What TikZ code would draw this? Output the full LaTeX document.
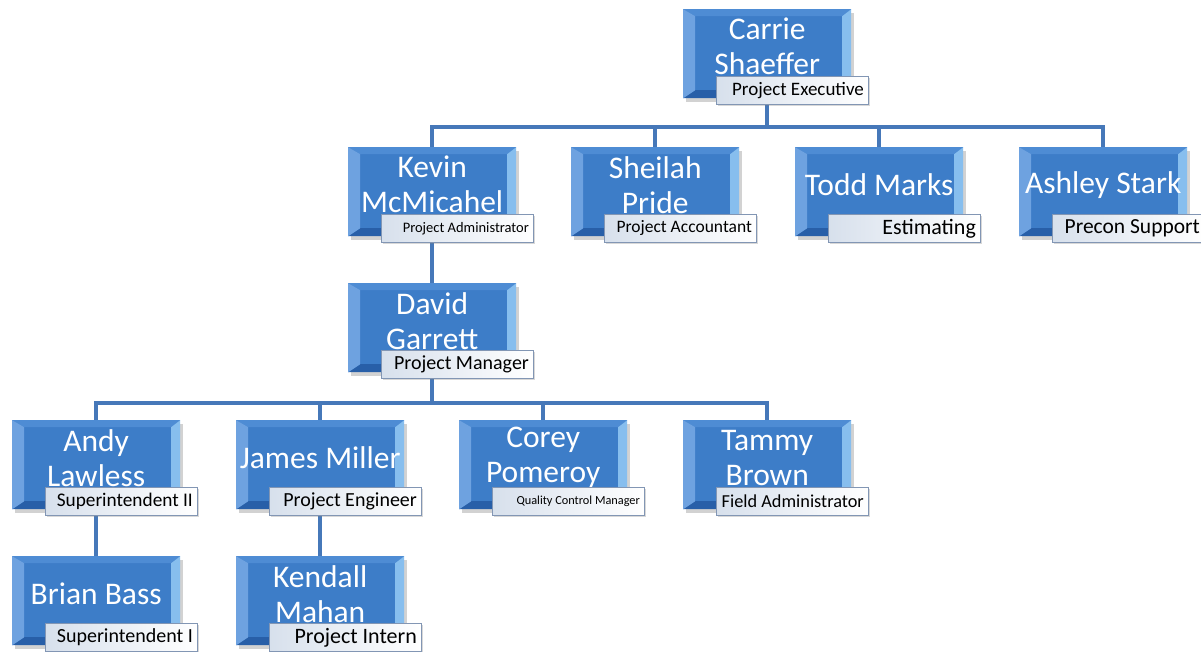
\documentclass[tikz,border=0pt]{standalone}
\usepackage{fontspec}
\setmainfont{Carlito}
\usetikzlibrary{shadows,backgrounds}
\definecolor{face}{RGB}{61,125,200}
\definecolor{bevL}{RGB}{110,162,224}
\definecolor{bevR}{RGB}{135,190,238}
\definecolor{bevT}{RGB}{78,140,212}
\definecolor{bevB}{RGB}{40,95,168}
\definecolor{linec}{RGB}{70,120,185}
\definecolor{lblgray}{RGB}{215,224,236}
\definecolor{lbldraw}{RGB}{130,150,180}
\tikzset{
  pbox/.style={minimum width=168pt, minimum height=89pt, inner sep=0pt, fill=face,
    drop shadow={shadow xshift=3pt, shadow yshift=-4pt, opacity=.35},
    path picture={
      \path (path picture bounding box.north west) coordinate (pnw)
            (path picture bounding box.north east) coordinate (pne)
            (path picture bounding box.south west) coordinate (psw)
            (path picture bounding box.south east) coordinate (pse);
      \fill[bevT] (pnw) -- (pne) -- ([shift={(-9pt,-7pt)}]pne) -- ([shift={(12pt,-7pt)}]pnw) -- cycle;
      \fill[bevB] (psw) -- (pse) -- ([shift={(-9pt,8pt)}]pse) -- ([shift={(12pt,8pt)}]psw) -- cycle;
      \fill[bevL] (pnw) -- (psw) -- ([shift={(12pt,8pt)}]psw) -- ([shift={(12pt,-7pt)}]pnw) -- cycle;
      \fill[bevR] (pne) -- (pse) -- ([shift={(-9pt,8pt)}]pse) -- ([shift={(-9pt,-7pt)}]pne) -- cycle;
    }},
  nametext/.style={text=white, align=center, inner sep=0pt, font=\fontsize{31.5}{35}\selectfont},
  lbl/.style={anchor=north west, minimum width=152pt, minimum height=28pt,
    inner xsep=4pt, inner ysep=0pt, left color=lblgray, right color=white,
    draw=lbldraw, line width=0.8pt, font=\fontsize{20}{22}\selectfont,
    drop shadow={shadow xshift=2pt, shadow yshift=-2pt, opacity=.3}},
  conn/.style={draw=linec, line width=3.5pt},
}
\newcommand{\person}[6]{%
  \node[pbox, anchor=north west] (#1) at (#2,#3) {};
  \node[nametext] (#1-name) at ([yshift=7pt]#1.center) {#4};
  \node[lbl, #6] (#1-lbl) at (#2+33,#3+67) {\makebox[143pt][r]{\raisebox{-1.5pt}{#5}}};
}
\begin{document}
\begin{tikzpicture}[x=1pt,y=-1pt]
\useasboundingbox (0,0) rectangle (1201,652);
\person{carrie}{683}{9}{Carrie\\Shaeffer}{Project Executive}{font=\fontsize{19}{21}\selectfont}
\person{kevin}{348}{147}{Kevin\\McMicahel}{Project Administrator}{font=\fontsize{14.5}{16}\selectfont}
\person{sheilah}{571}{147}{Sheilah\\Pride}{Project Accountant}{font=\fontsize{17.5}{20}\selectfont}
\person{todd}{795}{147}{Todd Marks}{Estimating}{font=\fontsize{22}{24}\selectfont}
\person{ashley}{1019}{147}{Ashley Stark}{Precon Support}{font=\fontsize{21.5}{24}\selectfont}
\person{david}{348}{283}{David\\Garrett}{Project Manager}{}
\person{andy}{12}{420}{Andy\\Lawless}{Superintendent II}{font=\fontsize{19.3}{22}\selectfont}
\person{james}{236}{420}{James Miller}{Project Engineer}{}
\person{corey}{459}{420}{Corey\\Pomeroy}{Quality Control Manager}{font=\fontsize{12.3}{14}\selectfont}
\person{tammy}{683}{420}{Tammy\\Brown}{Field Administrator}{font=\fontsize{18.3}{21}\selectfont}
\person{brian}{12}{556}{Brian Bass}{Superintendent I}{}
\person{kendall}{236}{556}{Kendall\\Mahan}{Project Intern}{font=\fontsize{22}{24}\selectfont}
\coordinate (bus1) at (0,127);
\coordinate (bus2) at (0,403);
\begin{scope}[on background layer]
\fill[white] (0,0) rectangle (1201,652);
\foreach \c in {kevin,sheilah,todd,ashley}{
  \draw[conn] (carrie.south) -- (carrie.south |- bus1) -| (\c.north);
}
\draw[conn] (kevin.south) -- (david.north);
\foreach \c in {andy,james,corey,tammy}{
  \draw[conn] (david.south) -- (david.south |- bus2) -| (\c.north);
}
\draw[conn] (andy.south) -- (brian.north);
\draw[conn] (james.south) -- (kendall.north);
\end{scope}
\end{tikzpicture}
\end{document}
